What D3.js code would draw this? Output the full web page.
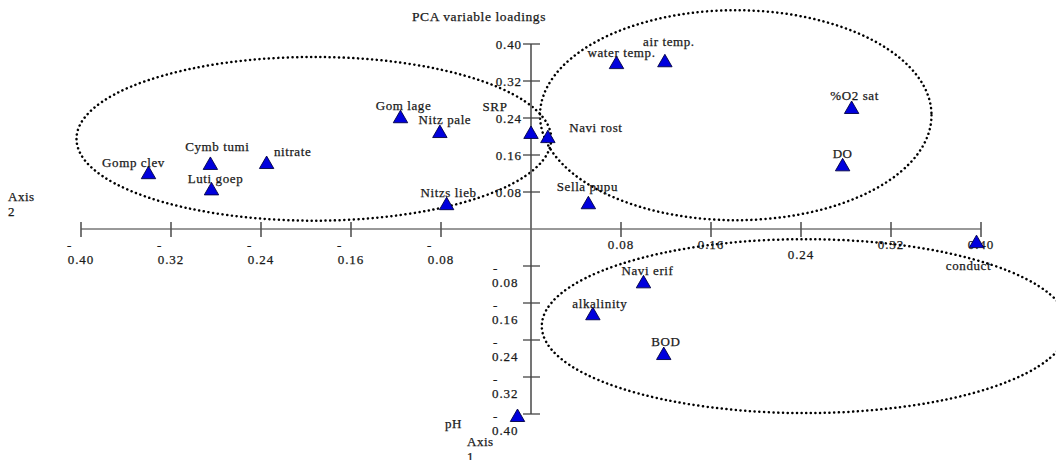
<!DOCTYPE html>
<html>
<head>
<meta charset="utf-8">
<script src="https://cdn.jsdelivr.net/npm/d3@7"></script>
<style>
  body { margin: 0; background: #fff; }
  svg text { font-family: "Liberation Serif", "Times New Roman", serif; fill: #1a1a1a; stroke: #1a1a1a; stroke-width: 0.25; }
</style>
</head>
<body>
<div id="chart"></div>
<script>
// PCA variable loadings
const names = ['Gomp clev', 'Cymb tumi', 'Luti goep', 'nitrate', 'Gom lage', 'Nitz pale',
  'Nitzs lieb', 'SRP', 'Navi rost', 'water temp.', 'air temp.', '%O2 sat', 'DO',
  'Sella pupu', 'conduct', 'Navi erif', 'alkalinity', 'BOD', 'pH'];
const axis1 = [-0.340, -0.285, -0.284, -0.235, -0.116, -0.081, -0.075, 0.000, 0.015,
  0.076, 0.119, 0.285, 0.277, 0.051, 0.396, 0.100, 0.055, 0.118, -0.012];
const axis2 = [0.121, 0.141, 0.086, 0.143, 0.242, 0.210, 0.054, 0.208, 0.199,
  0.359, 0.363, 0.262, 0.138, 0.056, -0.028, -0.115, -0.184, -0.270, -0.404];
const tickValues = [-0.40, -0.32, -0.24, -0.16, -0.08, 0.08, 0.16, 0.24, 0.32, 0.40];

// label placement relative to marker (px)
const labelDx = [-15, 7, 4, 26, 3, 5, 2, -36, 48, 5, 4, 3, 0, -1, -8, 4, 7, 2, -64];
const labelDy = [-11, -17, -11, -11, -12, -12, -12, -26, -9, -10, -20, -12, -12, -17, 24, -12, -11, -12, 8];

// dotted group ellipses in loading units: cx, cy, rx, ry
const groups = [
  [-0.193, 0.195, 0.211, 0.177],
  [0.182, 0.246, 0.174, 0.227],
  [0.2436, -0.210, 0.234, 0.188]
];

const W = 1056, H = 460;
const svg = d3.select('#chart').append('svg').attr('width', W).attr('height', H);

const x = d3.scaleLinear().domain([-0.4, 0.4]).range([81, 981]);
const y = d3.scaleLinear().domain([-0.4, 0.4]).range([414, 44]);
const fmt = d3.format('.2f');

// ellipses
svg.selectAll('ellipse').data(groups).enter().append('ellipse')
  .attr('cx', d => x(d[0]))
  .attr('cy', d => y(d[1]))
  .attr('rx', d => x(d[2]) - x(0))
  .attr('ry', d => y(0) - y(d[3]))
  .attr('fill', 'none')
  .attr('stroke', '#000')
  .attr('stroke-width', 2.5)
  .attr('stroke-linecap', 'round')
  .attr('stroke-dasharray', '0.1 4.6');

// horizontal axis
const gx = svg.append('g');
gx.append('line').attr('x1', x(-0.4)).attr('x2', x(0.4))
  .attr('y1', y(0)).attr('y2', y(0)).attr('stroke', '#333').attr('stroke-width', 1);
gx.selectAll('.xt').data(tickValues).enter().append('line')
  .attr('x1', d => x(d)).attr('x2', d => x(d))
  .attr('y1', y(0) - 7).attr('y2', y(0) + 8)
  .attr('stroke', '#555').attr('stroke-width', 1.6);

const xl = gx.selectAll('.xl').data(tickValues).enter().append('text')
  .attr('font-size', 13).attr('letter-spacing', 0.9);
xl.filter(d => d > 0)
  .attr('text-anchor', 'middle')
  .attr('x', d => x(d))
  .attr('y', d => (Math.abs(d - 0.24) < 1e-9 ? y(0) + 30 : y(0) + 20))
  .text(d => fmt(d));
xl.filter(d => d < 0).each(function(d) {
  const t = d3.select(this);
  t.append('tspan').attr('x', x(d) - 14).attr('y', y(0) + 21).text('-');
  t.append('tspan').attr('x', x(d)).attr('y', y(0) + 35)
    .attr('text-anchor', 'middle').text(fmt(-d));
});

// vertical axis
const gy = svg.append('g');
gy.append('line').attr('x1', x(0)).attr('x2', x(0))
  .attr('y1', y(0.4)).attr('y2', y(-0.4)).attr('stroke', '#666').attr('stroke-width', 1.8);
gy.selectAll('.yt').data(tickValues).enter().append('line')
  .attr('x1', x(0) - 8).attr('x2', x(0) + 9)
  .attr('y1', d => y(d)).attr('y2', d => y(d))
  .attr('stroke', '#444').attr('stroke-width', 1.3);

const yl = gy.selectAll('.yl').data(tickValues).enter().append('text')
  .attr('font-size', 13).attr('letter-spacing', 0.9);
yl.filter(d => d > 0)
  .attr('text-anchor', 'end')
  .attr('x', x(0) - 9)
  .attr('y', d => y(d) + 4.5)
  .text(d => fmt(d));
yl.filter(d => d < 0).each(function(d) {
  const t = d3.select(this);
  t.append('tspan').attr('x', x(0) - 38).attr('y', y(d) + 7).text('-');
  t.append('tspan').attr('x', x(0) - 39).attr('y', y(d) + 21).text(fmt(-d));
});

// axis titles
const a2 = svg.append('text').attr('font-size', 13).attr('letter-spacing', 0.5);
a2.append('tspan').attr('x', 8).attr('y', 201).text('Axis');
a2.append('tspan').attr('x', 8).attr('y', 216).text('2');
const a1 = svg.append('text').attr('font-size', 13).attr('letter-spacing', 0.5);
a1.append('tspan').attr('x', 467).attr('y', 446).text('Axis');
a1.append('tspan').attr('x', 467).attr('y', 461).text('1');

svg.append('text').attr('x', 479).attr('y', 21).attr('text-anchor', 'middle')
  .attr('font-size', 13.5).attr('letter-spacing', 0.6)
  .text('PCA variable loadings');

// points
const pts = names.map((n, i) => ({ name: n, a1: axis1[i], a2: axis2[i], dx: labelDx[i], dy: labelDy[i] }));
const tri = d3.symbol().type(d3.symbolTriangle).size(90);

svg.selectAll('.pt').data(pts).enter().append('path')
  .attr('d', tri)
  .attr('transform', d => `translate(${x(d.a1)},${y(d.a2) + 1.5})`)
  .attr('fill', '#0000dd')
  .attr('stroke', '#000044')
  .attr('stroke-width', 0.9);

svg.selectAll('.lab').data(pts).enter().append('text')
  .attr('x', d => x(d.a1) + d.dx)
  .attr('y', d => y(d.a2) + d.dy + 4.5)
  .attr('text-anchor', 'middle')
  .attr('font-size', 13)
  .attr('letter-spacing', 0.6)
  .text(d => d.name);
</script>
</body>
</html>
